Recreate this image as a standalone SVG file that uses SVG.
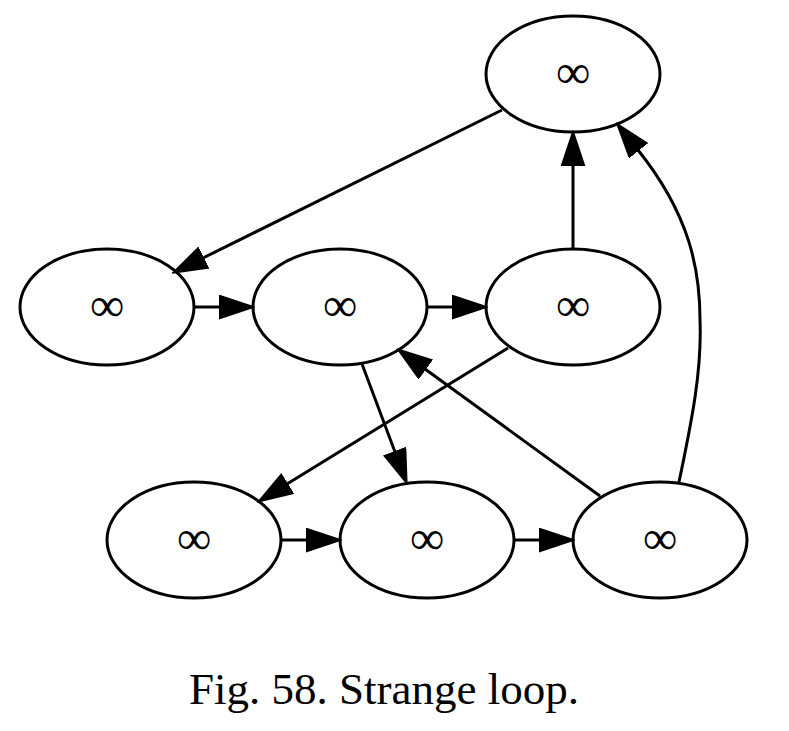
<svg xmlns="http://www.w3.org/2000/svg" width="789" height="731" viewBox="0 0 789 731">
<style>
.node ellipse{fill:none;stroke:#000;stroke-width:3}
.node text{font-family:"Liberation Serif","Times New Roman",serif;font-size:48px;text-anchor:middle;fill:#000}
.edges path{fill:none;stroke:#000;stroke-width:3}
.caption{font-family:"Liberation Serif","Times New Roman",serif;font-size:45px;text-anchor:middle;fill:#000}
</style>
<defs>
<marker id="arr" markerUnits="userSpaceOnUse" markerWidth="36" markerHeight="26" refX="1" refY="12" orient="auto" viewBox="0 0 36 26">
<path d="M1,1 L34,12 L1,23 Z" fill="#000" stroke="#000" stroke-width="2"/>
</marker>
</defs>
<rect width="789" height="731" fill="#fff"/>
<g class="edges">
<path d="M502,110 L203,258" marker-end="url(#arr)"/>
<path d="M194,307 L220,307" marker-end="url(#arr)"/>
<path d="M428,307 L453,307" marker-end="url(#arr)"/>
<path d="M573,249 L573,165" marker-end="url(#arr)"/>
<path d="M508,348 L287,484" marker-end="url(#arr)"/>
<path d="M362,364 L395,452" marker-end="url(#arr)"/>
<path d="M282,540 L307,540" marker-end="url(#arr)"/>
<path d="M515,540 L540,540" marker-end="url(#arr)"/>
<path d="M600,496 L425,369" marker-end="url(#arr)"/>
<path d="M679,482 C692,420 702,370 700,320 C700,270 690,215 638,150" marker-end="url(#arr)"/>
</g>
<g id="nA" class="node"><ellipse cx="573" cy="74" rx="87" ry="58"/><text x="573" y="88">∞</text></g>
<g id="nB" class="node"><ellipse cx="107" cy="307" rx="87" ry="58"/><text x="107" y="321">∞</text></g>
<g id="nC" class="node"><ellipse cx="340" cy="307" rx="87" ry="58"/><text x="340" y="321">∞</text></g>
<g id="nD" class="node"><ellipse cx="573" cy="307" rx="87" ry="58"/><text x="573" y="321">∞</text></g>
<g id="nE" class="node"><ellipse cx="194" cy="540" rx="87" ry="58"/><text x="194" y="554">∞</text></g>
<g id="nF" class="node"><ellipse cx="427" cy="540" rx="87" ry="58"/><text x="427" y="554">∞</text></g>
<g id="nG" class="node"><ellipse cx="660" cy="540" rx="87" ry="58"/><text x="660" y="554">∞</text></g>
<text class="caption" x="384" y="704">Fig. 58. Strange loop.</text>
</svg>
